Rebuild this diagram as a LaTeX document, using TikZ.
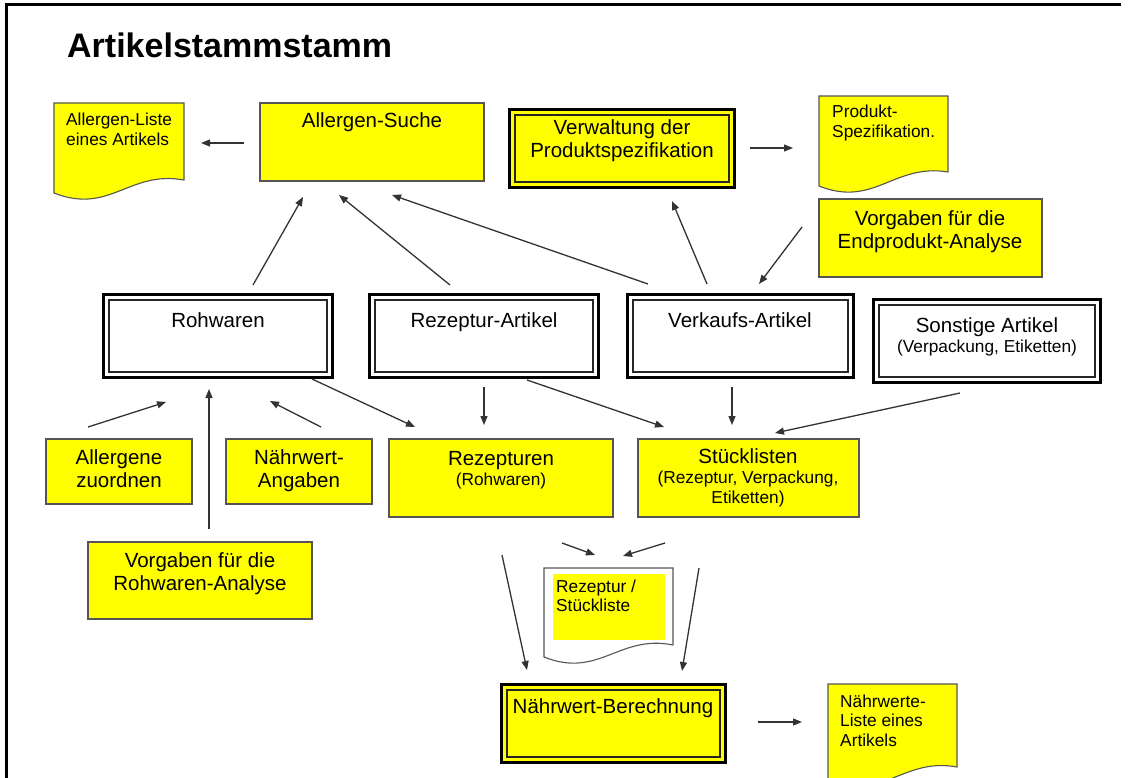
\documentclass[tikz,border=0pt]{standalone}
\usepackage{fontspec}
\setmainfont{Liberation Sans}
\usetikzlibrary{arrows.meta}
\definecolor{ylw}{HTML}{FFFF00}
\definecolor{edgec}{HTML}{555555}
\definecolor{arrowc}{HTML}{333333}
\tikzset{
  box/.style={anchor=north west, inner sep=0pt, outer sep=0pt, draw=edgec, line width=1.1pt, fill=ylw},
  wbox/.style={anchor=north west, inner sep=0pt, outer sep=0pt, draw=black, line width=3pt, fill=white},
  dbox/.style={anchor=north west, inner sep=0pt, outer sep=0pt, draw=black, line width=3pt, fill=ylw},
  innerframe/.style={draw=black!85, line width=1.1pt},
  txt/.style={anchor=base, align=center, inner sep=0pt, font=\fontsize{20.5}{23}\selectfont},
  mixtxt/.style={anchor=base, align=center, inner sep=0pt, font=\fontsize{20.5}{20}\selectfont},
  doctxt/.style={anchor=base west, align=left, inner sep=0pt, font=\fontsize{17.3}{19.5}\selectfont},
  docshape/.style={draw=edgec, line width=1.1pt, fill=ylw},
  arr/.style={draw=arrowc, line width=1.3pt, -{Triangle[length=9pt,width=7pt]}},
}
\newcommand{\smalltxt}{\fontsize{17.3}{20}\selectfont}
\begin{document}
\begin{tikzpicture}[x=1pt,y=-1pt]
\useasboundingbox (0,0) rectangle (1129,778);
\clip (0,0) rectangle (1129,778);
\fill[white] (0,0) rectangle (1129,778);
% frame
\draw[line width=3pt, black] (6,780) -- (6,5) -- (1121,5);
% title
\node[anchor=base west, inner sep=0pt, font=\fontsize{34}{40}\selectfont\bfseries] (title) at (67,58) {Artikelstammstamm};

% ---------- documents (text anchored at baseline of last line) ----------
\path[docshape] (54,103) -- (184,103) -- (184,180) .. controls (129,170) and (110,215) .. (54,193) -- cycle;
\node[doctxt] (aliste) at (66,145.5) {Allergen-Liste\\eines Artikels};

\path[docshape] (819,96) -- (948,96) -- (948,172) .. controls (894,163) and (874,208) .. (819,186) -- cycle;
\node[doctxt] (prodspez) at (832,137.5) {Produkt-\\Spezifikation.};

\path[docshape, fill=white] (544,568) -- (673,568) -- (673,645) .. controls (619,634) and (599,679) .. (544,657) -- cycle;
\fill[ylw] (553,574) rectangle (665,640);
\node[doctxt] (rezdoc) at (556,611.5) {Rezeptur /\\Stückliste};

\path[docshape] (828,684) -- (957,684) -- (957,767) .. controls (903,757) and (883,802) .. (828,780) -- cycle;
\node[doctxt] (naehrdoc) at (840,746) {Nährwerte-\\Liste eines\\Artikels};

% ---------- yellow boxes ----------
\node[box, minimum width=224pt, minimum height=78pt] (asuche) at (260,103) {};
\node[txt] (asuche-t) at (372,128) {Allergen-Suche};

\node[dbox, minimum width=225pt, minimum height=78pt] (verw) at (509.5,109.5) {};
\node[txt] (verw-t) at (622,158) {Verwaltung der\\Produktspezifikation};

\node[box, minimum width=223pt, minimum height=78pt] (endpro) at (819,199) {};
\node[txt] (endpro-t) at (930,248) {Vorgaben für die\\Endprodukt-Analyse};

\node[box, minimum width=146pt, minimum height=65pt] (allerg) at (46,439) {};
\node[txt] (allerg-t) at (119,487) {Allergene\\zuordnen};

\node[box, minimum width=146pt, minimum height=65pt] (naehrang) at (226,439) {};
\node[txt] (naehrang-t) at (299,487) {Nährwert-\\Angaben};

\node[box, minimum width=224pt, minimum height=78pt] (rezept) at (389,439) {};
\node[mixtxt] (rezept-t) at (501,485) {Rezepturen\\{\smalltxt (Rohwaren)}};

\node[box, minimum width=221pt, minimum height=78pt] (stueck) at (638,439) {};
\node[mixtxt] (stueck-t) at (748,503) {Stücklisten\\{\smalltxt (Rezeptur, Verpackung,}\\{\smalltxt Etiketten)}};

\node[box, minimum width=224pt, minimum height=77pt] (vorgroh) at (88,542) {};
\node[txt] (vorgroh-t) at (200,590) {Vorgaben für die\\Rohwaren-Analyse};

\node[dbox, minimum width=224pt, minimum height=78pt] (naehrber) at (501.5,684.5) {};
\node[txt] (naehrber-t) at (613,713) {Nährwert-Berechnung};

% ---------- article boxes ----------
\node[wbox, minimum width=229pt, minimum height=83pt] (roh) at (103.5,294.5) {};
\node[txt] (roh-t) at (218,327) {Rohwaren};

\node[wbox, minimum width=229pt, minimum height=83pt] (rezart) at (369.5,294.5) {};
\node[txt] (rezart-t) at (484,327) {Rezeptur-Artikel};

\node[wbox, minimum width=226pt, minimum height=83pt] (verk) at (627.5,294.5) {};
\node[txt] (verk-t) at (740,327) {Verkaufs-Artikel};

\node[wbox, minimum width=227pt, minimum height=83pt] (sonst) at (873.5,299.5) {};
\node[mixtxt] (sonst-t) at (987,352) {Sonstige Artikel\\{\smalltxt (Verpackung, Etiketten)}};

\foreach \n in {roh,rezart,verk,sonst,verw,naehrber}
  \draw[innerframe] ([shift={(5.5,5.5)}]\n.north west) rectangle ([shift={(-5.5,-5.5)}]\n.south east);

% ---------- connector end points ----------
\coordinate (c1a) at (244,143); \coordinate (c1b) at (201,143);
\coordinate (c2a) at (253,285); \coordinate (c2b) at (303,197);
\coordinate (c3a) at (450,285); \coordinate (c3b) at (339,195);
\coordinate (c4a) at (648,284); \coordinate (c4b) at (392,195);
\coordinate (c5a) at (750,148); \coordinate (c5b) at (793,148);
\coordinate (c6a) at (707,284); \coordinate (c6b) at (672,201);
\coordinate (c7a) at (802,227); \coordinate (c7b) at (759,284);
\coordinate (c8a) at (88,427);  \coordinate (c8b) at (166,402);
\coordinate (c9a) at (209,529); \coordinate (c9b) at (209,389);
\coordinate (c10a) at (321,427); \coordinate (c10b) at (270,401);
\coordinate (c11a) at (312,379); \coordinate (c11b) at (415,427);
\coordinate (c12a) at (484,387); \coordinate (c12b) at (484,425);
\coordinate (c13a) at (527,380); \coordinate (c13b) at (664,427);
\coordinate (c14a) at (732,387); \coordinate (c14b) at (732,425);
\coordinate (c15a) at (960,393); \coordinate (c15b) at (775,433);
\coordinate (c16a) at (562,543); \coordinate (c16b) at (595,555);
\coordinate (c17a) at (665,543); \coordinate (c17b) at (623,556);
\coordinate (c18a) at (502,555); \coordinate (c18b) at (527,670);
\coordinate (c19a) at (699,568); \coordinate (c19b) at (682,671);
\coordinate (c20a) at (758,722); \coordinate (c20b) at (802,722);

\foreach \i in {1,...,20}
  \draw[arr] (c\i a) -- (c\i b);
\end{tikzpicture}
\end{document}
